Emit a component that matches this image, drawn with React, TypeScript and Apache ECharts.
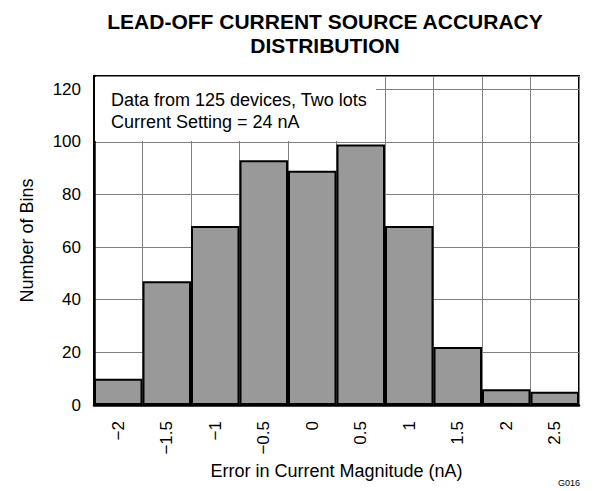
import React, { useEffect, useRef } from "react";
import * as echarts from "echarts";

const categories = [-2, -1.5, -1, -0.5, 0, 0.5, 1, 1.5, 2, 2.5];
const counts = [10, 47, 68, 93, 89, 99, 68, 22, 6, 5];
const yTicks = [0, 20, 40, 60, 80, 100, 120];
const titleLines = ["LEAD-OFF CURRENT SOURCE ACCURACY", "DISTRIBUTION"];
const noteLines = ["Data from 125 devices, Two lots", "Current Setting = 24 nA"];

const FONT = "'Liberation Sans', Arial, sans-serif";
const G = { left: 94, right: 26, top: 76, bottom: 86 };

const fmt = (v: number | string) => String(v).replace("-", "\u2212");

export default function App() {
  const ref = useRef<HTMLDivElement>(null);
  useEffect(() => {
    document.body.style.margin = "0";
    if (!ref.current) return;
    const chart = echarts.init(ref.current, undefined, { renderer: "svg" });
    chart.setOption({
      animation: false,
      backgroundColor: "#ffffff",
      title: {
        text: titleLines.join("\n"),
        left: 325,
        top: 9,
        padding: 0,
        textAlign: "center",
        textStyle: { fontFamily: FONT, fontSize: 21, fontWeight: "bold", color: "#000", lineHeight: 24 },
      },
      grid: {
        left: G.left,
        right: G.right,
        top: G.top,
        bottom: G.bottom,
        show: true,
        borderColor: "#000",
        borderWidth: 2,
        backgroundColor: "transparent",
      },
      xAxis: {
        type: "category",
        data: categories.map(fmt),
        boundaryGap: true,
        name: "Error in Current Magnitude (nA)",
        nameLocation: "middle",
        nameGap: 53,
        nameTextStyle: { fontFamily: FONT, fontSize: 18, color: "#000" },
        axisLine: { show: true, lineStyle: { color: "#000", width: 2.5 } },
        axisTick: { show: false },
        axisLabel: { rotate: 90, margin: 16, fontFamily: FONT, fontSize: 17, color: "#000" },
        splitLine: { show: true, lineStyle: { color: "#808080", width: 1 } },
      },
      yAxis: {
        type: "value",
        min: 0,
        max: 125,
        interval: 20,
        name: "Number of Bins",
        nameLocation: "middle",
        nameGap: 58,
        nameTextStyle: { fontFamily: FONT, fontSize: 18, color: "#000" },
        axisLine: { show: true, lineStyle: { color: "#000", width: 2.5 } },
        axisTick: { show: false },
        axisLabel: {
          margin: 13,
          fontFamily: FONT,
          fontSize: 17,
          color: "#000",
          formatter: (v: number) => (yTicks.includes(v) ? String(v) : ""),
        },
        splitLine: { show: true, lineStyle: { color: "#808080", width: 1 } },
      },
      series: [
        {
          type: "bar",
          data: counts,
          barWidth: "100%",
          barCategoryGap: 0,
          itemStyle: { color: "#999999", borderColor: "#000", borderWidth: 2 },
          z: 3,
        },
      ],
      graphic: [
        {
          type: "rect",
          z: 1,
          shape: { x: G.left + 1, y: G.top + 1, width: 281, height: 64 },
          style: { fill: "#ffffff" },
        },
        {
          type: "text",
          z: 2,
          left: 111,
          top: 89,
          style: {
            text: noteLines.join("\n"),
            fontFamily: FONT,
            fontSize: 18,
            lineHeight: 22,
            fill: "#000",
          },
        },
        {
          type: "text",
          left: 558,
          top: 478,
          style: { text: "G016", fontFamily: FONT, fontSize: 9, fill: "#000" },
        },
      ],
    });
    return () => chart.dispose();
  }, []);
  return <div ref={ref} style={{ width: 605, height: 491 }} />;
}
